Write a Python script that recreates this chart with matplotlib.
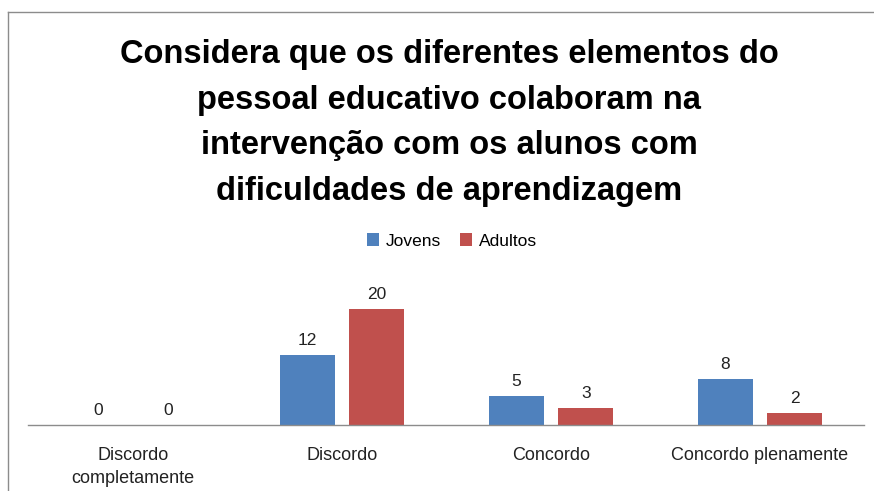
import numpy as np
import matplotlib.pyplot as plt
from matplotlib.lines import Line2D

categorias = ['Discordo\ncompletamente', 'Discordo', 'Concordo', 'Concordo plenamente']
jovens = [0, 12, 5, 8]
adultos = [0, 20, 3, 2]
titulo = ('Considera que os diferentes elementos do\n'
          'pessoal educativo colaboram na\n'
          'intervenção com os alunos com\n'
          'dificuldades de aprendizagem')

plt.rcParams['font.family'] = ['Liberation Sans', 'DejaVu Sans']

fig = plt.figure(figsize=(8.74, 4.91), dpi=100)
ax = fig.add_axes([0.0326, 0.1344, 0.9565, 0.3308])

x = np.arange(len(categorias))
w = 0.263
off = 0.167
b1 = ax.bar(x - off, jovens, w, color='#4F81BD', label='Jovens')
b2 = ax.bar(x + off, adultos, w, color='#C0504D', label='Adultos')

for bars, vals in ((b1, jovens), (b2, adultos)):
    for b, v in zip(bars, vals):
        ax.annotate(str(v), (b.get_x() + b.get_width() / 2, v),
                    xytext=(0, 5), textcoords='offset points',
                    ha='center', va='bottom', fontsize=12.5, color='#222222')

ax.set_xlim(-0.5, 3.5)
ax.set_ylim(0, 28)
ax.set_xticks(x)
ax.set_xticklabels(categorias, fontsize=13, color='#222222', linespacing=1.45)
ax.tick_params(axis='x', length=0, pad=16)
ax.set_yticks([])
for s in ('top', 'right', 'left'):
    ax.spines[s].set_visible(False)
ax.spines['bottom'].set_color('#8c8c8c')
ax.spines['bottom'].set_linewidth(1.0)

fig.text(449 / 874, 1 - 123 / 491, titulo, ha='center', va='center',
         fontsize=23.5, fontweight='bold', linespacing=1.62, color='black')

fig.legend(handles=[b1, b2], loc='center', bbox_to_anchor=(452 / 874, 1 - 241 / 491),
           ncol=2, frameon=False, fontsize=12.5, handlelength=0.7, handleheight=0.7,
           handletextpad=0.4, columnspacing=1.1)

# moldura do gráfico (cortada à direita e em baixo)
fig.add_artist(Line2D([7.5 / 874, 7.5 / 874], [0, 1 - 12 / 491], color='#8c8c8c', lw=1.0))
fig.add_artist(Line2D([7.5 / 874, 1], [1 - 12 / 491, 1 - 12 / 491], color='#8c8c8c', lw=1.0))

fig.savefig('out.png', dpi=100)
